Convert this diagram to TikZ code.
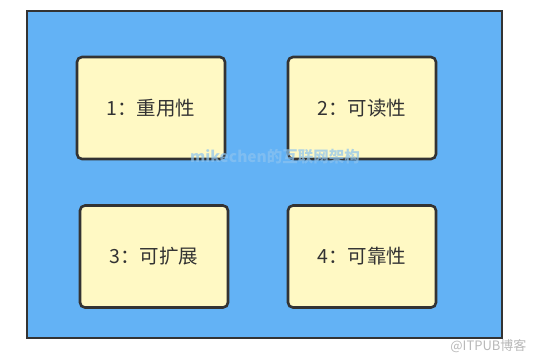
\documentclass[tikz,border=0pt]{standalone}
\usepackage{fontspec}
\setmainfont{Noto Sans CJK SC}
\newfontfamily\cjk{Noto Sans CJK SC}
\definecolor{outerblue}{RGB}{99,178,245}
\definecolor{boxyellow}{RGB}{255,249,196}
\definecolor{edgegray}{RGB}{51,51,51}
\definecolor{wmblue}{RGB}{140,195,240}
\definecolor{wmgray}{RGB}{185,185,185}
\begin{document}
\begin{tikzpicture}[x=1pt,y=-1pt,
  featbox/.style={draw=edgegray,line width=2.6pt,fill=boxyellow,rounded corners=5pt,
    minimum width=148pt,minimum height=102pt,inner sep=0pt,
    font=\cjk\fontsize{19.5}{22}\selectfont,text=edgegray},
  frame/.style={draw=edgegray,line width=2.6pt,fill=outerblue}]
\useasboundingbox (0,0) rectangle (534,360);
\fill[white] (0,0) rectangle (534,360);
\node[frame,minimum width=475pt,minimum height=327pt,inner sep=0pt] (outer) at (264.5,174.5) {};
\node[featbox] (b1) at (151,108) {1：重用性};
\node[featbox] (b2) at (362,108) {2：可读性};
\node[featbox] (b3) at (154,256.5) {3：可扩展};
\node[featbox] (b4) at (362,256.5) {4：可靠性};
\node[font=\cjk\bfseries\fontsize{15.5}{17}\selectfont,text=wmblue,opacity=0.7] (wm) at (275,157) {mikechen的互联网架构};
\node[font=\cjk\fontsize{13}{15}\selectfont,text=wmgray,anchor=east] (itpub) at (530,346) {@ITPUB博客};
\end{tikzpicture}
\end{document}
